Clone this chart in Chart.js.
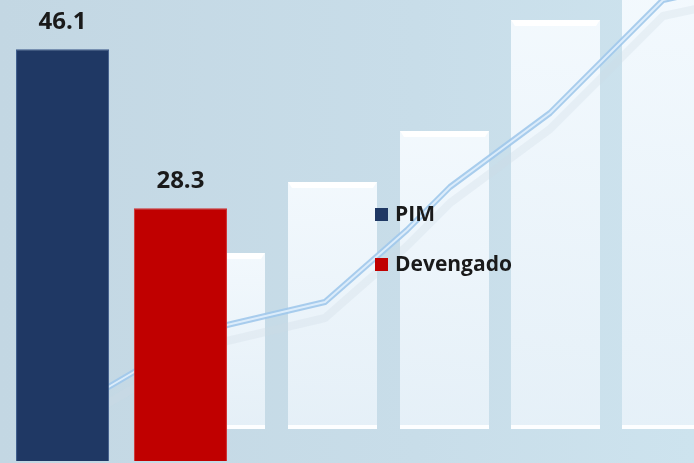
<!DOCTYPE html>
<html>
<head>
<meta charset="utf-8">
<script src="https://cdn.jsdelivr.net/npm/chart.js@4.4.1/dist/chart.umd.min.js"></script>
<style>
  html, body { margin: 0; padding: 0; background: #c6dae6; }
  #wrap { width: 694px; height: 463px; position: relative; }
</style>
</head>
<body>
<div id="wrap"><canvas id="barChart"></canvas></div>
<script>
// datos del gráfico
const categories = [''];
const seriesNames = ['PIM', 'Devengado'];
const pimValues = [46.1];
const devengadoValues = [28.3];
const seriesColors = ['#1f3864', '#c00000'];

// fondo decorativo (imagen de fondo de la diapositiva)
const backgroundArt = {
    id: 'backgroundArt',
    beforeDraw(chart) {
        const ctx = chart.ctx;
        const w = chart.width, h = chart.height;
        ctx.save();
        const g = ctx.createLinearGradient(0, 0, w, 0);
        g.addColorStop(0, '#c3d7e3');
        g.addColorStop(0.6, '#c8dde9');
        g.addColorStop(1, '#cde3ee');
        ctx.fillStyle = g;
        ctx.fillRect(0, 0, w, h);

        // barras fantasma del fondo
        const ghost = [[176, 253], [288, 182], [400, 131], [511, 20], [622, -10]];
        ghost.forEach(([x, top]) => {
            const bw = 89, bottom = 429;
            const gg = ctx.createLinearGradient(0, top, 0, bottom);
            gg.addColorStop(0, 'rgba(246,251,255,0.92)');
            gg.addColorStop(1, 'rgba(234,243,250,0.85)');
            ctx.fillStyle = gg;
            ctx.fillRect(x, top, bw, bottom - top);
            ctx.fillStyle = 'rgba(255,255,255,0.95)';
            ctx.beginPath();
            ctx.moveTo(x, top);
            ctx.lineTo(x + bw, top);
            ctx.lineTo(x + bw - 4, top + 6);
            ctx.lineTo(x + 4, top + 6);
            ctx.closePath();
            ctx.fill();
            ctx.fillStyle = 'rgba(255,255,255,0.9)';
            ctx.fillRect(x, bottom - 4, bw, 4);
        });

        // línea de tendencia decorativa
        const pts = [[100, 392], [134, 372], [227, 325], [325, 302], [407, 230], [450, 187], [550, 113], [663, 0], [700, -8]];
        ctx.lineJoin = 'round';
        ctx.beginPath();
        pts.forEach(([x, y], i) => i ? ctx.lineTo(x, y + 16) : ctx.moveTo(x, y + 16));
        ctx.strokeStyle = 'rgba(205,218,230,0.3)';
        ctx.lineWidth = 8;
        ctx.stroke();
        ctx.beginPath();
        pts.forEach(([x, y], i) => i ? ctx.lineTo(x, y) : ctx.moveTo(x, y));
        ctx.strokeStyle = 'rgba(160,200,235,0.9)';
        ctx.lineWidth = 6;
        ctx.stroke();
        ctx.strokeStyle = 'rgba(225,240,252,0.9)';
        ctx.lineWidth = 2;
        ctx.stroke();
        ctx.restore();
    }
};

// etiquetas de valor sobre las barras
const valueLabels = {
    id: 'valueLabels',
    afterDatasetsDraw(chart) {
        const ctx = chart.ctx;
        ctx.save();
        ctx.font = 'bold 24px "Open Sans"';
        ctx.fillStyle = '#1a1a1a';
        ctx.textAlign = 'center';
        ctx.textBaseline = 'alphabetic';
        chart.data.datasets.forEach((ds, i) => {
            chart.getDatasetMeta(i).data.forEach((bar, j) => {
                ctx.fillText(ds.data[j].toFixed(1), bar.x, bar.y - 20);
            });
        });
        ctx.restore();
    }
};

// leyenda en el centro
const centerLegend = {
    id: 'centerLegend',
    afterDraw(chart) {
        const ctx = chart.ctx;
        ctx.save();
        ctx.font = 'bold 21px "Open Sans"';
        ctx.textBaseline = 'alphabetic';
        chart.data.datasets.forEach((ds, i) => {
            const y = 214 + i * 50;
            ctx.fillStyle = ds.backgroundColor;
            ctx.fillRect(375, y - 6, 13, 13);
            ctx.fillStyle = '#1a1a1a';
            ctx.fillText(ds.label, 395, y + 7);
        });
        ctx.restore();
    }
};

const ctx = document.getElementById('barChart').getContext('2d');
const barChart = new Chart(ctx, {
    type: 'bar',
    data: {
        labels: categories,
        datasets: [{
            label: seriesNames[0],
            data: pimValues,
            backgroundColor: seriesColors[0],
            borderColor: '#3d5a8a',
            borderWidth: 1
        }, {
            label: seriesNames[1],
            data: devengadoValues,
            backgroundColor: seriesColors[1],
            borderColor: '#d03030',
            borderWidth: 1
        }]
    },
    options: {
        responsive: true,
        maintainAspectRatio: false,
        animation: false,
        layout: { padding: { left: 0, right: 451, top: 0, bottom: 2 } },
        datasets: {
            bar: { categoryPercentage: 0.97, barPercentage: 0.79 }
        },
        plugins: {
            legend: { display: false },
            tooltip: { enabled: false }
        },
        scales: {
            x: { display: false },
            y: { display: false, min: 0, max: 51.6 }
        }
    },
    plugins: [backgroundArt, valueLabels, centerLegend]
});
</script>
</body>
</html>
